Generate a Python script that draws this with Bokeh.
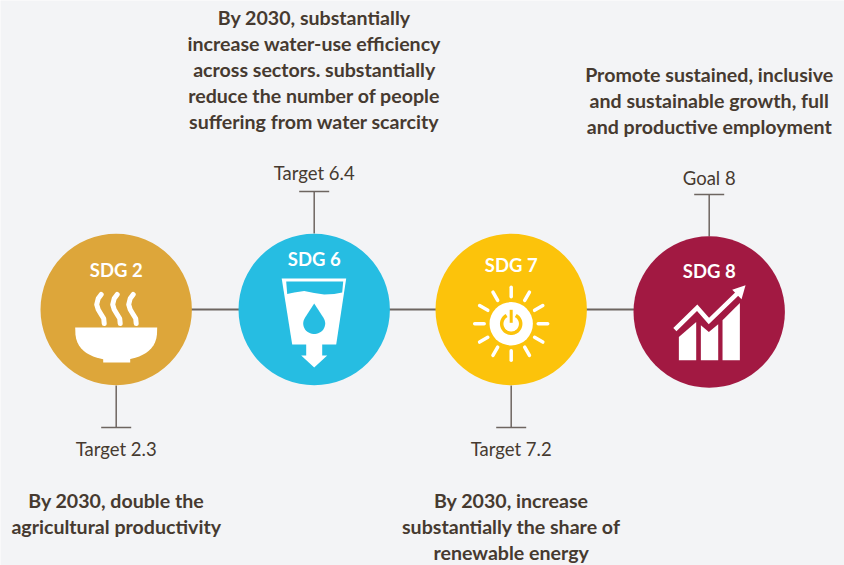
import numpy as np
from bokeh.plotting import figure
from bokeh.embed import file_html
from bokeh.resources import INLINE
from bokeh.core.properties import value

BG = "#f3f4f6"
LINE = "#6d6560"
INK = "#463a30"
BOLD_FONT = "Lato"
REG_FONT = "Lato"

# Nodes
goals = ["SDG 2", "SDG 6", "SDG 7", "SDG 8"]
node_x = [115.7, 313.7, 510.7, 708.7]
node_y = [309, 309, 309, 311.5]
node_colors = ["#DDA63A", "#26BDE2", "#FCC30B", "#A21942"]
goal_label_y = [269, 258, 264, 270]

targets = ["Target 2.3", "Target 6.4", "Target 7.2", "Goal 8"]
target_y = [448, 172, 448, 177]
stem_ends = [(385, 427), (233, 191), (385, 427), (236, 194)]

descriptions = [
    ["By 2030, double the", "agricultural productivity"],
    ["By 2030, substantially", "increase water-use efficiency", "across sectors. substantially",
     "reduce the number of people", "suffering from water scarcity"],
    ["By 2030, increase", "substantially the share of", "renewable energy"],
    ["Promote sustained, inclusive", "and sustainable growth, full", "and productive employment"],
]
desc_first_y = [500, 17, 500, 74]
desc_step = 26

p = figure(width=844, height=565, x_range=(0, 844), y_range=(565, 0), output_backend="svg",
           toolbar_location=None, min_border=0, background_fill_color=BG, border_fill_color=BG,
           outline_line_color=None, styles={"position": "absolute", "left": "0px", "top": "0px"})
p.axis.visible = False
p.grid.visible = False

# connectors
p.line([node_x[0], node_x[-1]], [309, 309], line_color=LINE, line_width=2)
for x, (a, b) in zip(node_x, stem_ends):
    p.line([x, x], [a, b], line_color=LINE, line_width=1.5)
    p.line([x - 15, x + 15], [b, b], line_color=LINE, line_width=1.5)

p.circle(node_x, node_y, radius=75.7, fill_color=node_colors, line_color=None)

W = "#ffffff"
# SDG 2 bowl
cx, cy = node_x[0], node_y[0]
t = np.linspace(0, np.pi, 30)
bx = 41 * np.cos(t)
by = 18 + 33 * np.sin(t) ** 0.7
p.patch(cx + bx, cy + by, fill_color=W, line_color=None)
p.patch(cx + np.array([-13, 14, 14, -13]), cy + np.array([46, 46, 53, 53]), fill_color=W, line_color=None)
steam_dx = [-16, 0, 16]
steam_x = [1, -2, -3.5, -2, 1, 3.5, 4]
steam_y = [-15, -11, -5, 0, 5, 9, 14]
for dx in steam_dx:
    p.line(cx + dx + np.array(steam_x), cy + np.array(steam_y), line_color=W, line_width=5, line_cap="round", line_join="round")

# SDG 6 glass
cx, cy = node_x[1], node_y[1]
p.patch(cx + np.array([-32.5, 32, 22, -22]), cy + np.array([-31, -31, 35, 35]), fill_color=W, line_color=None)
p.patch(cx + np.array([-28, 29, 28, 20, 10, 0, -10, -20, -27]),
        cy + np.array([-28, -28, -17, -15.5, -15, -16.5, -18.5, -17, -15.5]), fill_color=node_colors[1], line_color=None)
p.patch(cx + np.array([-8, 8, 8, 13, 0, -13, -8]), cy + np.array([34, 34, 46, 46, 58, 46, 46]), fill_color=W, line_color=None)
a = np.linspace(-0.6, np.pi + 0.6, 30)
dx = np.concatenate([[0], 11 * np.cos(a)])
dy = np.concatenate([[-6], 14 + 10.5 * np.sin(a)])
p.patch(cx + dx, cy + dy, fill_color=node_colors[1], line_color=None)

# SDG 7 sun
cx, cy = node_x[2], node_y[2] + 14.3
p.circle([cx], [cy], radius=21.7, fill_color=W, line_color=None)
for ang in np.arange(12) * np.pi / 6:
    p.line([cx + 27 * np.cos(ang), cx + 36.5 * np.cos(ang)], [cy + 27 * np.sin(ang), cy + 36.5 * np.sin(ang)],
           line_color=W, line_width=3.5, line_cap="round")
a = np.linspace(-np.pi / 2 + 0.5, 1.5 * np.pi - 0.5, 40)
p.line(cx + 9.5 * np.cos(a), cy + 9.5 * np.sin(a), line_color=node_colors[2], line_width=3.5)
p.line([cx, cx], [cy - 14, cy], line_color=W, line_width=7)
p.line([cx, cx], [cy - 14, cy - 1], line_color=node_colors[2], line_width=3)

# SDG 8 growth
cx, cy = node_x[3], node_y[3]
rel = lambda zx, zy: (np.array(zx, float) - 851) / 3
rely = lambda zy: (np.array(zy, float) - 245) / 3
for xs, ys in [([760, 812, 812, 760], [320, 275, 390, 390]),
               ([826, 850, 878, 878, 826], [285, 305, 282, 390, 390]),
               ([891, 943, 943, 891], [270, 218, 390, 390])]:
    p.patch(cx + rel(xs, 0), cy + rely(ys), fill_color=W, line_color=None)
lx, ly = [748, 815, 850, 935], [298, 232, 272, 190]
p.line(cx + rel(lx, 0), cy + rely(ly), line_color=node_colors[3], line_width=10, line_join="miter")
p.line(cx + rel(lx, 0), cy + rely(ly), line_color=W, line_width=4.5, line_join="miter")
p.patch(cx + rel([960, 920, 948], 0), cy + rely([165, 178, 207]), fill_color=W, line_color=None)

# Text
p.text(node_x, goal_label_y, text=goals, text_color=W, text_font=value(BOLD_FONT), text_font_style="bold",
       text_font_size="18.5px", text_align="center", text_baseline="middle")
p.text(node_x, target_y, text=targets, text_color=INK, text_font=value(REG_FONT),
       text_font_size="18.5px", text_align="center", text_baseline="middle")
tx, ty, tt = [], [], []
for x, y0, lines in zip(node_x, desc_first_y, descriptions):
    for i, s in enumerate(lines):
        tx.append(x); ty.append(y0 + i * desc_step); tt.append(s)
p.text(tx, ty, text=tt, text_color=INK, text_font=value(BOLD_FONT), text_font_style="bold",
       text_font_size="19.6px", text_align="center", text_baseline="middle")

open("out.html", "w").write(file_html(p, INLINE))
